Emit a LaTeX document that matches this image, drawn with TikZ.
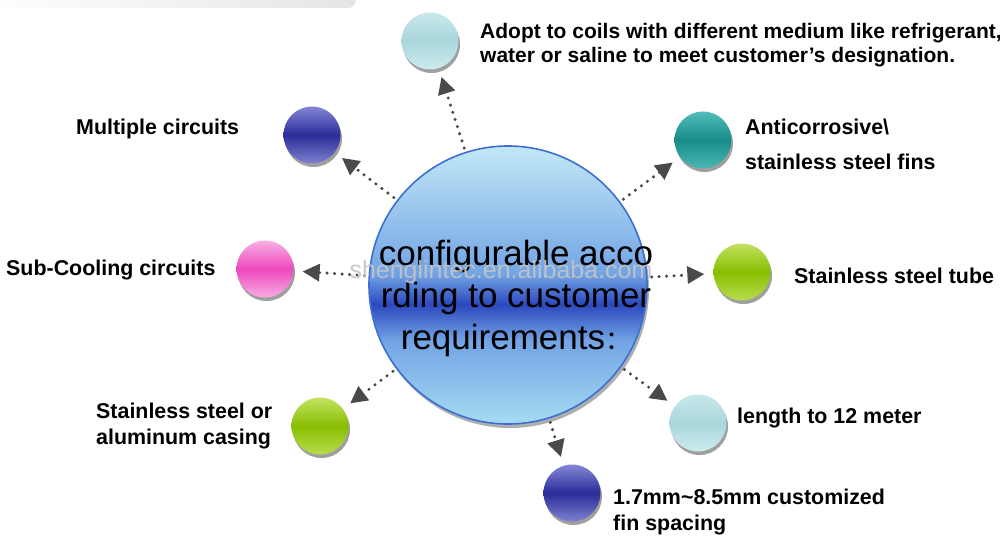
\documentclass[tikz,border=0pt]{standalone}
\usepackage{fontspec}
\setmainfont{Liberation Sans}
\newfontfamily\cjk{Noto Sans CJK SC}
\usetikzlibrary{arrows.meta,shadows}
\definecolor{cyT}{HTML}{C8E8EC}\definecolor{cyM}{HTML}{A9D6DB}\definecolor{cyB}{HTML}{CDEBEE}
\definecolor{dbT}{HTML}{8587D6}\definecolor{dbM}{HTML}{2A2C98}\definecolor{dbB}{HTML}{7E81CF}
\definecolor{tlT}{HTML}{52BDBA}\definecolor{tlM}{HTML}{168C89}\definecolor{tlB}{HTML}{4CB7B4}
\definecolor{grT}{HTML}{C2E262}\definecolor{grM}{HTML}{88BE00}\definecolor{grB}{HTML}{B8DC4E}
\definecolor{pkT}{HTML}{F8B0E4}\definecolor{pkM}{HTML}{EE48BE}\definecolor{pkB}{HTML}{F8ACE2}
\definecolor{bbtop}{HTML}{C2E8F6}\definecolor{bbmid}{HTML}{72A4E4}\definecolor{bbdark}{HTML}{2C48BE}\definecolor{bbbot}{HTML}{A6DCF2}
\definecolor{bborder}{HTML}{3D6FD2}
\definecolor{arrgray}{HTML}{4A4A4A}
\definecolor{wmgray}{HTML}{C4C4C4}
\pgfdeclareverticalshading{bigball}{100bp}{color(0bp)=(bbbot); color(25bp)=(bbbot); color(40bp)=(bbmid); color(46.5bp)=(bbdark); color(52bp)=(bbmid); color(75bp)=(bbtop); color(100bp)=(bbtop)}
\tikzset{
  ball/.style n args={3}{circle, minimum size=57pt, inner sep=0pt,
    top color=#1, bottom color=#3, middle color=#2,
    drop shadow={shadow xshift=1.5pt, shadow yshift=-3.5pt, fill=black!50, opacity=0.75}},
  lbl/.style={font=\bfseries\fontsize{21.4}{25}\selectfont, anchor=west, align=left, inner sep=0pt},
  arr/.style={draw=arrgray, line width=3.4pt, line cap=round, dash pattern=on 0pt off 7.5pt,
    -{Triangle[length=17pt,width=17pt,fill=arrgray]}, shorten <=4pt, shorten >=9pt},
}
\begin{document}
\begin{tikzpicture}[x=1pt,y=-1pt]
\useasboundingbox (0,0) rectangle (1000,553);
\fill[white] (0,0) rectangle (1000,553);
\shade[left color=white, right color=black!10, rounded corners=8pt] (-20,-20) rectangle (356,8);

\node[circle, minimum size=278pt, inner sep=0pt, draw=bborder, line width=1.6pt, shading=bigball,
  drop shadow={shadow xshift=2pt, shadow yshift=-4pt, fill=black!45, opacity=0.7}] (c) at (508,285) {};

\node[ball={cyT}{cyM}{cyB}] (b1) at (430,41) {};
\node[ball={dbT}{dbM}{dbB}] (b2) at (312,135) {};
\node[ball={tlT}{tlM}{tlB}] (b3) at (703,140) {};
\node[ball={grT}{grM}{grB}] (b4) at (742,272) {};
\node[ball={pkT}{pkM}{pkB}] (b5) at (265,269) {};
\node[ball={grT}{grM}{grB}] (b6) at (320,426) {};
\node[ball={cyT}{cyM}{cyB}] (b7) at (698,423) {};
\node[ball={dbT}{dbM}{dbB}] (b8) at (572,493) {};

\foreach \b in {b1,b2,b3,b4,b5,b6,b7,b8} \draw[arr] (c) -- (\b);

\node[font=\fontsize{35}{42}\selectfont, align=center, inner sep=0pt] (ct) at (516,298)
  {configurable acco\\rding to customer\\requirements{\cjk\fontsize{26}{30}\selectfont ：}};
\node[font=\fontsize{25}{30}\selectfont, text=wmgray, opacity=0.9, inner sep=0pt] (wm) at (501,272) {shenglintec.en.alibaba.com};

\node[lbl, font=\bfseries\fontsize{21}{24}\selectfont] (t1) at (480,45) {Adopt to coils with different medium like refrigerant,\\water or saline to meet customer’s designation.};
\node[lbl] (t2) at (76,129) {Multiple circuits};
\node[lbl, font=\bfseries\fontsize{21.4}{35}\selectfont] (t3) at (745,144) {Anticorrosive\textbackslash\\stainless steel fins};
\node[lbl] (t4) at (794,276) {Stainless steel tube};
\node[lbl] (t5) at (6,270) {Sub-Cooling circuits};
\node[lbl, font=\bfseries\fontsize{21.4}{26}\selectfont] (t6) at (96,426) {Stainless steel or\\aluminum casing};
\node[lbl] (t7) at (737,418) {length to 12 meter};
\node[lbl, font=\bfseries\fontsize{21.4}{26}\selectfont] (t8) at (613,512) {1.7mm\char`~8.5mm customized\\fin spacing};
\end{tikzpicture}
\end{document}
